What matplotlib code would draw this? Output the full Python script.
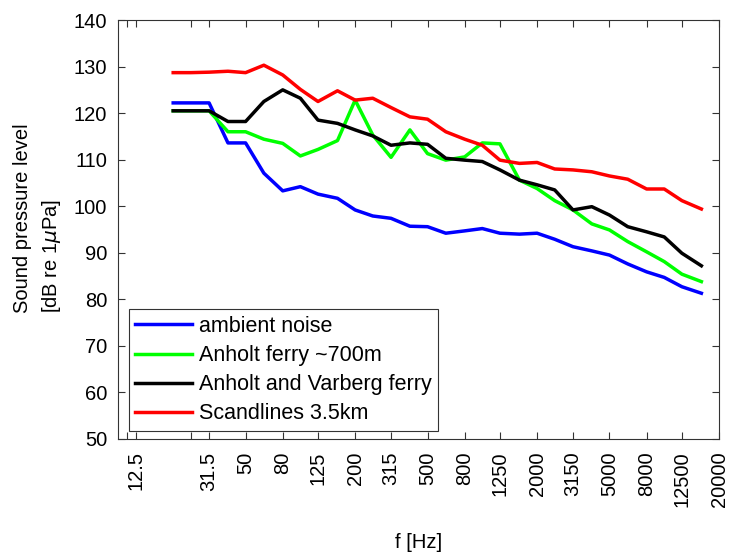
import matplotlib
matplotlib.use('Agg')
import matplotlib.pyplot as plt

plt.rcParams['font.family'] = ['Liberation Sans', 'DejaVu Sans']

# third-octave band centre frequencies (Hz)
freqs = [20, 25, 31.5, 40, 50, 63, 80, 100, 125, 160, 200, 250, 315, 400, 500,
         630, 800, 1000, 1250, 1600, 2000, 2500, 3150, 4000, 5000, 6300, 8000,
         10000, 12500, 16000]

ambient = [122.2, 122.2, 122.2, 113.6, 113.6, 107.1, 103.3, 104.2, 102.6, 101.7,
           99.2, 97.9, 97.4, 95.7, 95.6, 94.2, 94.7, 95.2, 94.2, 94.0,
           94.2, 92.9, 91.3, 90.4, 89.5, 87.6, 85.9, 84.7, 82.7, 81.3]
anholt = [120.5, 120.5, 120.5, 116.0, 116.0, 114.4, 113.5, 110.8, 112.2, 114.1,
          122.8, 115.3, 110.5, 116.4, 111.3, 109.9, 110.6, 113.6, 113.4, 105.6,
          103.8, 101.2, 99.2, 96.2, 94.9, 92.4, 90.2, 88.1, 85.4, 83.8]
anholt_varberg = [120.5, 120.5, 120.5, 118.2, 118.2, 122.5, 125.0, 123.2, 118.5, 117.8,
                  116.4, 115.1, 113.1, 113.6, 113.3, 110.3, 109.9, 109.6, 107.8, 105.6,
                  104.6, 103.5, 99.2, 99.9, 98.1, 95.6, 94.5, 93.4, 89.9, 87.2]
scandlines = [128.7, 128.7, 128.8, 129.0, 128.7, 130.3, 128.2, 125.1, 122.5, 124.8,
              122.8, 123.2, 121.2, 119.2, 118.7, 116.0, 114.4, 113.1, 109.9, 109.2,
              109.4, 108.0, 107.8, 107.4, 106.5, 105.8, 103.7, 103.7, 101.2, 99.4]

tick_freqs = [11.2, 12.5, 25, 31.5, 50, 80, 125, 200, 315, 500, 800, 1250,
              2000, 3150, 5000, 8000, 12500, 20000]
tick_labels = ['', '12.5', '', '31.5', '50', '80', '125', '200', '315', '500',
               '800', '1250', '2000', '3150', '5000', '8000', '12500', '20000']

fs = 14.5

fig = plt.figure(figsize=(7.31, 5.57), dpi=100)
ax = fig.add_axes([0.162, 0.212, 0.8216, 0.752])

lw = 2.5
ax.plot(freqs, ambient, color='#0000ff', lw=lw, label='ambient noise')
ax.plot(freqs, anholt, color='#00ff00', lw=lw, label='Anholt ferry ~700m')
ax.plot(freqs, anholt_varberg, color='black', lw=lw, label='Anholt and Varberg ferry')
ax.plot(freqs, scandlines, color='#ff0000', lw=lw, label='Scandlines 3.5km')

ax.set_xscale('log')
ax.set_xlim(10, 20000)
ax.set_ylim(50, 140)
ax.set_xticks(tick_freqs)
ax.set_xticklabels(tick_labels, rotation=90, fontsize=fs)
ax.minorticks_off()
ax.set_yticks(range(50, 141, 10))
ax.tick_params(axis='y', labelsize=fs, pad=8)
ax.tick_params(axis='x', pad=9)
ax.tick_params(direction='in', length=5, top=True, right=True, width=0.8,
               color='#333333')
for sp in ax.spines.values():
    sp.set_linewidth(0.8)
    sp.set_color('#333333')

ax.set_xlabel('f [Hz]', fontsize=fs, labelpad=19)
ax.set_ylabel('Sound pressure level\n[dB re 1$\\mu$Pa]', fontsize=fs,
              linespacing=1.5, multialignment='left')
ax.yaxis.set_label_coords(-0.092, 0.527)

leg = ax.legend(loc='lower left', bbox_to_anchor=(0.0176, 0.019),
                borderaxespad=0, fontsize=15.5, fancybox=False,
                edgecolor='#333333', framealpha=1, handlelength=2.65,
                borderpad=0.3, labelspacing=0.38, handletextpad=0.28)
leg.get_frame().set_linewidth(0.8)

fig.savefig('out.png', dpi=100)
